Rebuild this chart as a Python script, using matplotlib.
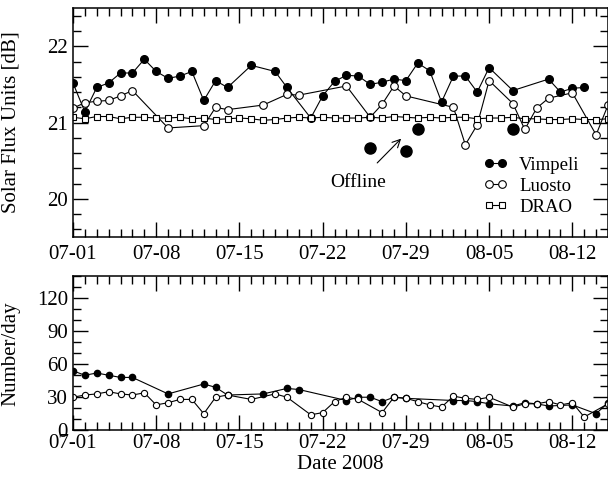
import numpy as np
import matplotlib
matplotlib.use('Agg')
import matplotlib.pyplot as plt
from matplotlib.ticker import MultipleLocator

plt.rcParams['font.family'] = ['Liberation Serif', 'DejaVu Serif']
plt.rcParams['mathtext.fontset'] = 'stix'

# ---- data (day 0 = 2008-07-01) ----
tick_days = [0, 7, 14, 21, 28, 35, 42]
tick_labels = ['07-01', '07-08', '07-15', '07-22', '07-29', '08-05', '08-12']

vim_days = [0, 1, 2, 3, 4, 5, 6, 7, 8, 9, 10, 11, 12, 13, 15, 17, 18, 20, 21, 22, 23, 24,
            25, 26, 27, 28, 29, 30, 31, 32, 33, 34, 35, 37, 40, 41, 42, 43]
vim_db = [21.52, 21.14, 21.46, 21.52, 21.65, 21.65, 21.83, 21.67, 21.58, 21.61, 21.67,
          21.29, 21.55, 21.46, 21.75, 21.67, 21.46, 21.06, 21.35, 21.54, 21.62, 21.61,
          21.50, 21.53, 21.57, 21.55, 21.78, 21.68, 21.27, 21.61, 21.61, 21.40, 21.72,
          21.42, 21.57, 21.40, 21.45, 21.46]

luo_days = [0, 1, 2, 3, 4, 5, 8, 11, 12, 13, 16, 18, 19, 23, 25, 26, 27, 28, 32, 33, 34,
            35, 37, 38, 39, 40, 42, 44, 45]
luo_db = [21.19, 21.26, 21.28, 21.29, 21.35, 21.42, 20.93, 20.96, 21.20, 21.17, 21.23,
          21.37, 21.36, 21.48, 21.07, 21.24, 21.48, 21.35, 21.20, 20.71, 20.97, 21.55,
          21.25, 20.91, 21.19, 21.32, 21.39, 20.84, 21.23]

drao_days = list(range(46))
drao_db = [21.07, 21.05, 21.08, 21.08, 21.05, 21.07, 21.07, 21.06, 21.06, 21.07,
           21.05, 21.06, 21.04, 21.05, 21.06, 21.05, 21.03, 21.04, 21.06, 21.07,
           21.06, 21.07, 21.06, 21.06, 21.06, 21.07, 21.06, 21.08, 21.07, 21.06,
           21.07, 21.06, 21.07, 21.07, 21.05, 21.06, 21.06, 21.07, 21.05, 21.05,
           21.04, 21.04, 21.05, 21.04, 21.04, 21.05]

off_days = [25, 28, 29, 37]
off_db = [20.67, 20.63, 20.91, 20.91]

nvim_days = [0, 1, 2, 3, 4, 5, 8, 11, 12, 13, 16, 18, 19, 23, 24, 25, 26, 27, 28, 32, 33,
             34, 35, 37, 38, 39, 40, 42, 44, 45]
nvim = [54, 50, 52, 50, 48, 48, 33, 42, 39, 32, 33, 38, 37, 27, 30, 30, 26, 30, 29, 27,
        27, 26, 24, 22, 25, 24, 22, 23, 15, 25]

nluo_days = [0, 1, 2, 3, 4, 5, 6, 7, 8, 9, 10, 11, 12, 13, 15, 17, 18, 20, 21, 22, 23, 24,
             26, 27, 28, 29, 30, 31, 32, 33, 34, 35, 37, 38, 39, 40, 41, 42, 43, 45]
nluo = [30, 32, 33, 35, 33, 32, 34, 23, 25, 28, 28, 15, 30, 32, 28, 33, 30, 14, 16, 26,
        30, 28, 16, 30, 29, 26, 23, 21, 31, 29, 28, 30, 21, 24, 24, 26, 23, 25, 12, 24]

fig = plt.figure(figsize=(6.08, 4.78), dpi=100)
ax1 = fig.add_axes([0.120, 0.504, 0.880, 0.479])
ax2 = fig.add_axes([0.120, 0.100, 0.880, 0.322])

# ---- top: flux ----
ax1.plot(vim_days, vim_db, 'k-o', lw=0.8, ms=5.5, mfc='k', label='Vimpeli')
ax1.plot(luo_days, luo_db, 'k-o', lw=0.8, ms=5.5, mfc='white', mew=0.8, label='Luosto')
ax1.plot(drao_days, drao_db, 'k-s', lw=0.8, ms=4, mfc='white', mew=0.8, label='DRAO')
ax1.plot(off_days, off_db, 'ko', ms=8, ls='none')
ax1.annotate('Offline', xy=(27.6, 20.79), xytext=(24.0, 20.22), fontsize=14,
             ha='center', va='center',
             arrowprops=dict(arrowstyle='->', color='k', lw=0.8, shrinkA=8, shrinkB=0))
ax1.set_ylim(19.5, 22.5)
ax1.yaxis.set_major_locator(MultipleLocator(1))
ax1.yaxis.set_minor_locator(MultipleLocator(0.2))
ax1.set_ylabel('Solar Flux Units [dB]', fontsize=15)
ax1.yaxis.set_label_coords(-0.098, 0.5)
ax1.legend(loc='lower right', bbox_to_anchor=(0.968, 0.045), frameon=False, numpoints=2,
           fontsize=13.5, handlelength=1.3, handletextpad=0.6, labelspacing=0.2,
           borderaxespad=0.2)

# ---- bottom: counts ----
ax2.plot(nvim_days, nvim, 'k-o', lw=0.8, ms=4.5, mfc='k')
ax2.plot(nluo_days, nluo, 'k-o', lw=0.8, ms=4.5, mfc='white', mew=0.8)
ax2.set_ylim(0, 140)
ax2.yaxis.set_major_locator(MultipleLocator(30))
ax2.yaxis.set_minor_locator(MultipleLocator(10))
ax2.set_ylabel('Number/day', fontsize=15)
ax2.yaxis.set_label_coords(-0.098, 0.5)
ax2.set_xlabel('Date 2008', fontsize=15, labelpad=1)

for ax in (ax1, ax2):
    ax.set_xlim(0, 45)
    ax.set_xticks(tick_days)
    ax.set_xticklabels(tick_labels)
    ax.xaxis.set_minor_locator(MultipleLocator(1))
    ax.tick_params(which='both', direction='in', top=True, right=True, labelsize=15, width=1)
    ax.tick_params(which='major', length=11)
    ax.tick_params(which='minor', length=5.5)
    for s in ax.spines.values():
        s.set_linewidth(1.1)
ax1.tick_params(axis='x', which='major', pad=6)
ax2.tick_params(axis='x', which='major', pad=3)

fig.savefig('out.png', dpi=100)
